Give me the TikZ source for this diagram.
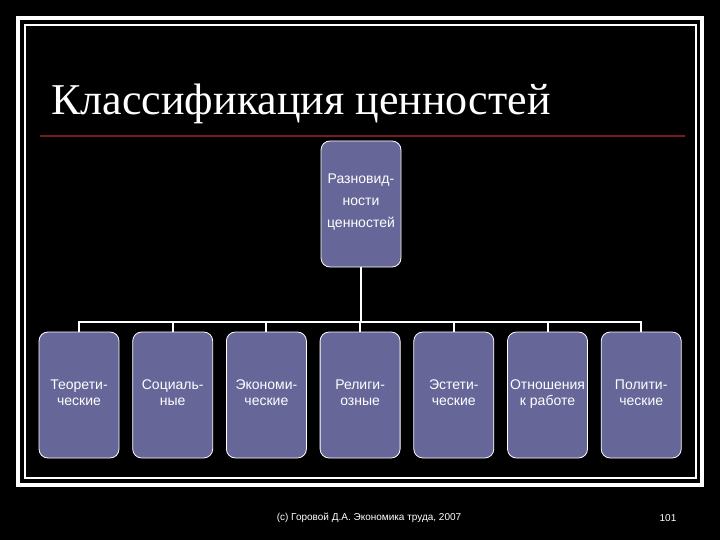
\documentclass[tikz,border=0pt]{standalone}
\usepackage{fontspec}
\setmainfont{Liberation Serif}
\setsansfont{Liberation Sans}
\usetikzlibrary{positioning}

\definecolor{boxfill}{RGB}{102,102,153}
\definecolor{rule}{RGB}{120,28,36}

\begin{document}
\begin{tikzpicture}[x=1pt, y=-1pt,
        kind/.style={rectangle, draw=white, line width=0.8pt, rounded corners=9pt,
                     fill=boxfill, text=white, minimum width=80pt, minimum height=126pt,
                     inner sep=0pt, outer sep=0pt, align=center,
                     execute at begin node=\strut, execute at end node=\strut,
                     font=\sffamily\fontsize{14}{16.5}\selectfont},
        link/.style={draw=white, line width=2pt},
        node distance=13.7pt]
      % background and frame
      \fill[black] (0,0) rectangle (720,540);
      \useasboundingbox (0,0) rectangle (720,540);
      \draw[white, line width=4pt] (18,18) rectangle (702,485);
      \draw[white, line width=2pt] (25,25) rectangle (696,478);
      \draw[rule, line width=1.5pt] (40,136) -- (685,136);

      \node[anchor=base west, text=white, font=\fontsize{44}{50}\selectfont] (title) at (48,115)
            {Классификация ценностей};

      \node[kind, font=\sffamily\fontsize{14}{22}\selectfont] (root) at (361,204)
            {Разновид-\\ности\\ценностей};

      \node[kind] (t1) at (79,395) {Теорети-\\ческие};
      \node[kind, right=of t1] (t2) {Социаль-\\ные};
      \node[kind, right=of t2] (t3) {Экономи-\\ческие};
      \node[kind, right=of t3] (t4) {Религи-\\озные};
      \node[kind, right=of t4] (t5) {Эстети-\\ческие};
      \node[kind, right=of t5] (t6) {Отношения\\к работе};
      \node[kind, right=of t6] (t7) {Полити-\\ческие};

      \coordinate (bar) at (0,322);
      \foreach \k in {t1,t2,t3,t4,t5,t6,t7}
        \draw[link] (root.south) -- (root.south |- bar) -| (\k.north);

      \node[text=white, font=\sffamily\fontsize{10}{12}\selectfont] (foot) at (369,518)
            {(c) Горовой Д.А. Экономика труда, 2007};
      \node[text=white, font=\sffamily\fontsize{10}{12}\selectfont] (page) at (668,518) {101};
    \end{tikzpicture}
\end{document}
